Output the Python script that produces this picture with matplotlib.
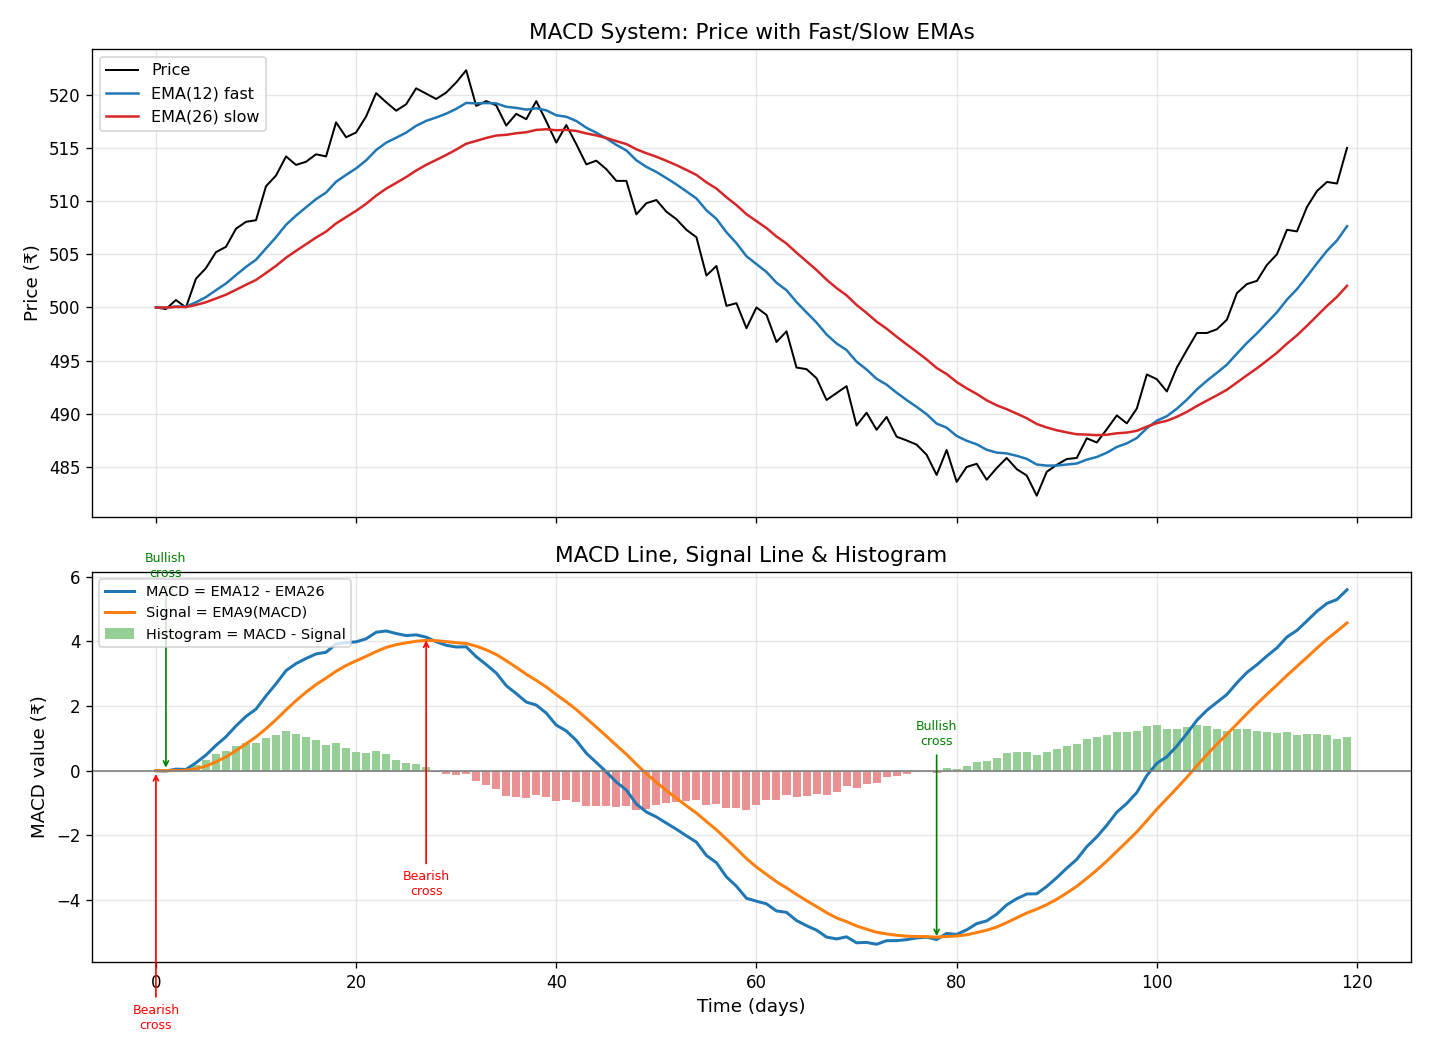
import numpy as np
import pandas as pd
import matplotlib
matplotlib.use("Agg")
import matplotlib.pyplot as plt

days = np.arange(120)
price = [
    500.0, 499.85, 500.7, 500.0, 502.7, 503.7, 505.2, 505.7, 507.4, 508.05,
    508.2, 511.4, 512.4, 514.2, 513.4, 513.7, 514.4, 514.2, 517.4, 516.0,
    516.45, 517.95, 520.15, 519.3, 518.5, 519.1, 520.6, 520.1, 519.6, 520.2,
    521.15, 522.3, 518.95, 519.4, 519.0, 517.1, 518.2, 517.7, 519.4, 517.5,
    515.5, 517.15, 515.35, 513.45, 513.8, 513.0, 511.9, 511.9, 508.75, 509.8,
    510.1, 509.0, 508.3, 507.3, 506.6, 503.0, 503.9, 500.15, 500.4, 498.05,
    500.0, 499.3, 496.75, 497.75, 494.35, 494.2, 493.35, 491.3, 491.95, 492.6,
    488.9, 490.1, 488.5, 489.7, 487.85, 487.5, 487.1, 486.15, 484.25, 486.6,
    483.6, 485.0, 485.3, 483.8, 484.9, 485.85, 484.8, 484.2, 482.3, 484.55,
    485.2, 485.75, 485.85, 487.7, 487.3, 488.55, 489.85, 489.1, 490.5, 493.7,
    493.25, 492.1, 494.35, 496.0, 497.6, 497.6, 497.95, 498.85, 501.35, 502.2,
    502.5, 504.0, 505.0, 507.3, 507.15, 509.45, 510.95, 511.8, 511.65, 515.0,
]
fast_span = 12
slow_span = 26
signal_span = 9
bullish_days = [1, 78]
bearish_days = [0, 27]

s = pd.Series(price, index=days)
ema_fast = s.ewm(span=fast_span, adjust=False).mean()
ema_slow = s.ewm(span=slow_span, adjust=False).mean()
macd = ema_fast - ema_slow
signal = macd.ewm(span=signal_span, adjust=False).mean()
hist = macd - signal

fig = plt.figure(figsize=(1430/120, 1040/120), dpi=120)
ax1 = fig.add_axes([0.0643, 0.5029, 0.9224, 0.45])
ax2 = fig.add_axes([0.0643, 0.075, 0.9224, 0.375], sharex=ax1)

ax1.plot(days, s.values, color="black", lw=1.2, label="Price")
ax1.plot(days, ema_fast.values, color="tab:blue", lw=1.5, label="EMA(12) fast")
ax1.plot(days, ema_slow.values, color="tab:red", lw=1.5, label="EMA(26) slow")
ax1.set_title("MACD System: Price with Fast/Slow EMAs", fontsize=13)
ax1.set_ylabel("Price (₹)", fontsize=11)
ax1.grid(True, alpha=0.3)
ax1.legend(loc="upper left", fontsize=9.6, labelspacing=0.5)
plt.setp(ax1.get_xticklabels(), visible=False)

colors = ["tab:green" if h >= 0 else "tab:red" for h in hist.values]
ax2.bar(days, hist.values, color=colors, alpha=0.5, width=0.8,
        label="Histogram = MACD - Signal")
ax2.plot(days, macd.values, color="tab:blue", lw=1.8, label="MACD = EMA12 - EMA26")
ax2.plot(days, signal.values, color="tab:orange", lw=1.8, label="Signal = EMA9(MACD)")
ax2.axhline(0, color="gray", lw=1.0)

for d in bullish_days:
    ax2.annotate("Bullish\ncross", xy=(d, macd.values[d]),
                 xytext=(d, macd.values[d] + 6.35), ha="center", va="center",
                 fontsize=7.5, color="green",
                 arrowprops=dict(arrowstyle="->", color="green", lw=1.0))
for d in bearish_days:
    ax2.annotate("Bearish\ncross", xy=(d, macd.values[d]),
                 xytext=(d, macd.values[d] - 7.65), ha="center", va="center",
                 fontsize=7.5, color="red",
                 arrowprops=dict(arrowstyle="->", color="red", lw=1.0))

ax2.set_title("MACD Line, Signal Line & Histogram", fontsize=13)
ax2.set_ylabel("MACD value (₹)", fontsize=11)
ax2.set_xlabel("Time (days)", fontsize=11)
ax2.grid(True, alpha=0.3)
ax2.legend(loc="upper left", fontsize=8.7)

fig.savefig("out.png", dpi=120)
